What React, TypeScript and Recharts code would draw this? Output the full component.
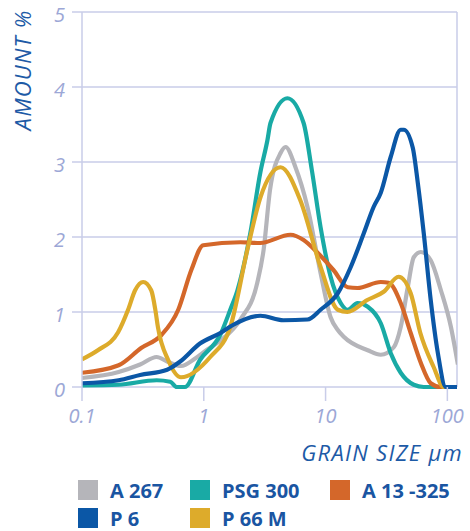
import React from 'react';
import { LineChart, Line, XAxis, YAxis, CartesianGrid, ReferenceLine } from 'recharts';

// [grain size µm, amount %]
const A267: [number, number][] = [
  [0.1, 0.12], [0.2, 0.2], [0.3, 0.3], [0.41, 0.4], [0.5, 0.34], [0.65, 0.28], [0.85, 0.38],
  [1.07, 0.5], [1.4, 0.63], [2.0, 0.9], [2.75, 1.39], [3.1, 1.83], [3.5, 2.63], [4.27, 3.12], [4.69, 3.2],
  [5.66, 2.93], [7.1, 2.4], [9.1, 1.52], [11, 0.93], [12.6, 0.76], [14.1, 0.67], [22.2, 0.49],
  [28.4, 0.43], [36.3, 0.53], [41.4, 0.8], [47.3, 1.33], [53, 1.73], [60.5, 1.8], [73, 1.69],
  [88.5, 1.29], [107, 0.8], [122, 0.3],
];

const PSG300: [number, number][] = [
  [0.1, 0.02], [0.2, 0.03], [0.41, 0.09], [0.53, 0.07], [0.6, 0.0], [0.7, 0.0], [0.93, 0.36],
  [1.37, 0.7], [1.65, 1.03], [1.89, 1.29], [2.41, 2.05], [2.92, 2.87], [3.33, 3.29], [3.53, 3.52],
  [4.86, 3.85], [6.6, 3.52], [7.7, 2.9], [9.1, 2.13], [11, 1.47], [13.3, 1.12], [15.2, 1.03],
  [18.3, 1.12], [22.2, 1.07], [28.4, 0.85], [34.3, 0.45], [41.4, 0.19], [53, 0.03], [64, 0.0],
  [120, 0.0],
];

const A13_325: [number, number][] = [
  [0.1, 0.19], [0.2, 0.29], [0.306, 0.52], [0.447, 0.69], [0.617, 1.03], [0.79, 1.56],
  [0.99, 1.89], [2.0, 1.93], [2.9, 1.92], [5.15, 2.03], [6.6, 1.96], [8.6, 1.79], [11.6, 1.56],
  [15.2, 1.33], [18.3, 1.32], [28.4, 1.4], [33, 1.39], [41.4, 1.12], [50, 0.72], [60.6, 0.32],
  [73, 0.05], [88, 0.0], [120, 0.0],
];

const P6: [number, number][] = [
  [0.1, 0.05], [0.2, 0.09], [0.3, 0.16], [0.5, 0.23], [0.64, 0.34], [0.93, 0.58], [1.37, 0.72],
  [1.75, 0.83], [2.92, 0.95], [4.5, 0.89], [7.1, 0.9], [9.1, 1.03], [12.6, 1.25], [16.1, 1.6],
  [20.6, 2.05], [24.8, 2.4], [28.4, 2.59], [34.3, 3.07], [41.4, 3.43], [43.9, 3.43], [52, 3.19],
  [57.2, 2.72], [64, 2.05], [73, 1.16], [83.6, 0.45], [97, 0.0], [120, 0.0],
];

const P66M: [number, number][] = [
  [0.1, 0.37], [0.135, 0.49], [0.198, 0.73], [0.239, 1.03], [0.273, 1.29], [0.318, 1.4],
  [0.37, 1.29], [0.4, 1.03], [0.42, 0.8], [0.51, 0.36], [0.65, 0.13], [1.13, 0.4], [1.65, 0.8],
  [2.28, 1.83], [2.92, 2.53], [4.27, 2.93], [6.2, 2.49], [9.1, 1.6], [12.6, 1.03], [15.1, 1.0],
  [22, 1.16], [30, 1.27], [39.8, 1.47], [50, 1.25], [60, 0.72], [77, 0.27], [93.5, 0.0],
  [120, 0.0],
];

const xTicks = [0.1, 1, 10, 100];
const yTicks = [0, 1, 2, 3, 4, 5];

const series = [
  { name: 'A 267', color: '#b5b5ba', points: A267 },
  { name: 'PSG 300', color: '#19aaa5', points: PSG300 },
  { name: 'A 13 -325', color: '#d4672a', points: A13_325 },
  { name: 'P 66 M', color: '#ddab2b', points: P66M },
  { name: 'P 6', color: '#0b57a6', points: P6 },
];

const legendRows = [
  ['A 267', 'PSG 300', 'A 13 -325'],
  ['P 6', 'P 66 M'],
];

const GRID = '#c9cde9';
const TICK = '#9ca7d6';
const TITLE = '#1d5aa6';
const FONT = '"Open Sans", sans-serif';

const toData = (pts: [number, number][]) => pts.map(([x, y]) => ({ x, y }));

const YTitle = (props: any) => {
  const vb = props.viewBox || { x: 0, y: 0 };
  const cx = 22;
  const cy = vb.y + 58;
  return (
    <text
      x={cx}
      y={cy}
      transform={`rotate(-90 ${cx} ${cy})`}
      textAnchor="middle"
      dominantBaseline="central"
      fill={TITLE}
      fontSize={22}
      letterSpacing={1.2}
      fontStyle="italic"
      fontFamily={FONT}
    >
      AMOUNT %
    </text>
  );
};

const XTitle = (props: any) => {
  const vb = props.viewBox || { x: 0, y: 0, width: 0 };
  return (
    <text
      x={vb.x + vb.width + 6}
      y={461}
      textAnchor="end"
      fill={TITLE}
      fontSize={22}
      letterSpacing={1.3}
      fontStyle="italic"
      fontFamily={FONT}
    >
      GRAIN SIZE μm
    </text>
  );
};

const colLeft = [78, 190, 330];

export default function App() {
  const colorOf = (n: string) => series.find((s) => s.name === n)!.color;
  return (
    <div style={{ position: 'absolute', left: 0, top: 0, width: 470, height: 531, background: '#fff', overflow: 'hidden' }}>
      <LineChart width={470} height={531} margin={{ top: 12, right: 13, bottom: 104, left: 10 }}>
        <CartesianGrid vertical={false} stroke={GRID} strokeWidth={1.5} />
        <XAxis
          dataKey="x"
          type="number"
          scale="log"
          domain={[0.1, 120]}
          allowDataOverflow
          ticks={xTicks}
          tickFormatter={(v: number) => String(v)}
          axisLine={false}
          tickLine={{ stroke: GRID, strokeWidth: 1.5 }}
          tickSize={14}
          tickMargin={8}
          height={40}
          tick={{ fill: TICK, fontSize: 20, fontStyle: 'italic', fontFamily: FONT }}
          label={<XTitle />}
        />
        <YAxis
          type="number"
          domain={[0, 5]}
          ticks={yTicks}
          width={72}
          axisLine={{ stroke: GRID, strokeWidth: 1.5 }}
          tickLine={{ stroke: GRID, strokeWidth: 1.5 }}
          tickSize={10}
          tickMargin={7}
          tick={{ fill: TICK, fontSize: 20, fontStyle: 'italic', fontFamily: FONT, dy: 3 }}
          label={<YTitle />}
        />
        <ReferenceLine x={120} stroke={GRID} strokeWidth={1.5} />
        {series.map((s) => (
          <Line
            key={s.name}
            data={toData(s.points)}
            dataKey="y"
            name={s.name}
            type="monotone"
            stroke={s.color}
            strokeWidth={4.2}
            dot={false}
            activeDot={false}
            isAnimationActive={false}
          />
        ))}
      </LineChart>
      {legendRows.map((row, ri) =>
        row.map((name, ci) => (
          <div
            key={name}
            style={{
              position: 'absolute',
              left: colLeft[ci],
              top: 480 + ri * 28,
              height: 20,
              display: 'flex',
              alignItems: 'center',
              fontFamily: FONT,
              fontWeight: 700,
              fontSize: 20,
              color: '#1a55a2',
              whiteSpace: 'nowrap',
            }}
          >
            <span style={{ display: 'inline-block', width: 20, height: 20, background: colorOf(name), marginRight: 12 }} />
            <span>{name}</span>
          </div>
        ))
      )}
    </div>
  );
}
